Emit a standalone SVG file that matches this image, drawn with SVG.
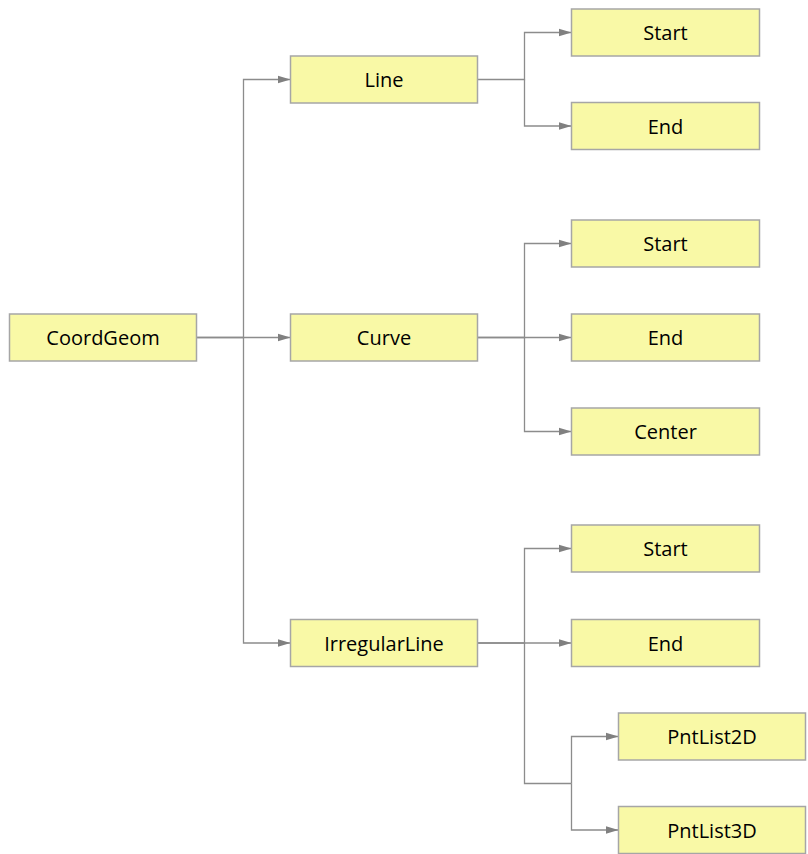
<svg xmlns="http://www.w3.org/2000/svg" width="808" height="854" viewBox="0 0 808 854">
<defs>
<marker id="arr" markerWidth="13" markerHeight="9" refX="13" refY="4.5" orient="auto" markerUnits="userSpaceOnUse">
<path d="M0,0.5 L13,4.5 L0,8.5 z" fill="#808080"/>
</marker>
<style>
.n rect{fill:#F9F9A6;stroke:#A6A6A6;stroke-width:1.5}
.n text{font-family:"Open Sans","Noto Sans","Liberation Sans",sans-serif;font-size:20px;fill:#000;text-anchor:middle}
.c path{fill:none;stroke:#8C8C8C;stroke-width:1.3}
.c .a{marker-end:url(#arr)}
</style>
</defs>
<rect width="808" height="854" fill="#fff"/>
<g id="connectors" class="c">
<path class="a" d="M196.5 337.5 H243.5 V79.5 H290.5"/>
<path class="a" d="M196.5 337.5 H290.5"/>
<path class="a" d="M243.5 337.5 V643 H290.5"/>
<path class="a" d="M477.5 79.5 H524.5 V32.5 H571.5"/>
<path class="a" d="M524.5 79.5 V126 H571.5"/>
<path class="a" d="M477.5 337.5 H524.5 V243.5 H571.5"/>
<path class="a" d="M477.5 337.5 H571.5"/>
<path class="a" d="M524.5 337.5 V431.5 H571.5"/>
<path class="a" d="M477.5 643 H524.5 V548.5 H571.5"/>
<path class="a" d="M477.5 643 H571.5"/>
<path d="M524.5 643 V783.5 H571.5"/>
<path class="a" d="M571.5 783.5 V736.5 H618.5"/>
<path class="a" d="M571.5 783.5 V830 H618.5"/>
</g>
<g id="CoordGeom" class="n"><rect x="9.5" y="314" width="187" height="47"/><text x="103" y="345">CoordGeom</text></g>
<g id="Line" class="n"><rect x="290.5" y="56" width="187" height="47"/><text x="384" y="87">Line</text></g>
<g id="Curve" class="n"><rect x="290.5" y="314" width="187" height="47"/><text x="384" y="345">Curve</text></g>
<g id="IrregularLine" class="n"><rect x="290.5" y="619.5" width="187" height="47"/><text x="384" y="650.5">IrregularLine</text></g>
<g id="Line_Start" class="n"><rect x="571.5" y="9" width="188" height="47"/><text x="665.5" y="40">Start</text></g>
<g id="Line_End" class="n"><rect x="571.5" y="102.5" width="188" height="47"/><text x="665.5" y="133.5">End</text></g>
<g id="Curve_Start" class="n"><rect x="571.5" y="220" width="188" height="47"/><text x="665.5" y="251">Start</text></g>
<g id="Curve_End" class="n"><rect x="571.5" y="314" width="188" height="47"/><text x="665.5" y="345">End</text></g>
<g id="Curve_Center" class="n"><rect x="571.5" y="408" width="188" height="47"/><text x="665.5" y="439">Center</text></g>
<g id="Irr_Start" class="n"><rect x="571.5" y="525" width="188" height="47"/><text x="665.5" y="556">Start</text></g>
<g id="Irr_End" class="n"><rect x="571.5" y="619.5" width="188" height="47"/><text x="665.5" y="650.5">End</text></g>
<g id="PntList2D" class="n"><rect x="618.5" y="713" width="187" height="47"/><text x="712" y="744">PntList2D</text></g>
<g id="PntList3D" class="n"><rect x="618.5" y="806.5" width="187" height="47"/><text x="712" y="837.5">PntList3D</text></g>
</svg>
